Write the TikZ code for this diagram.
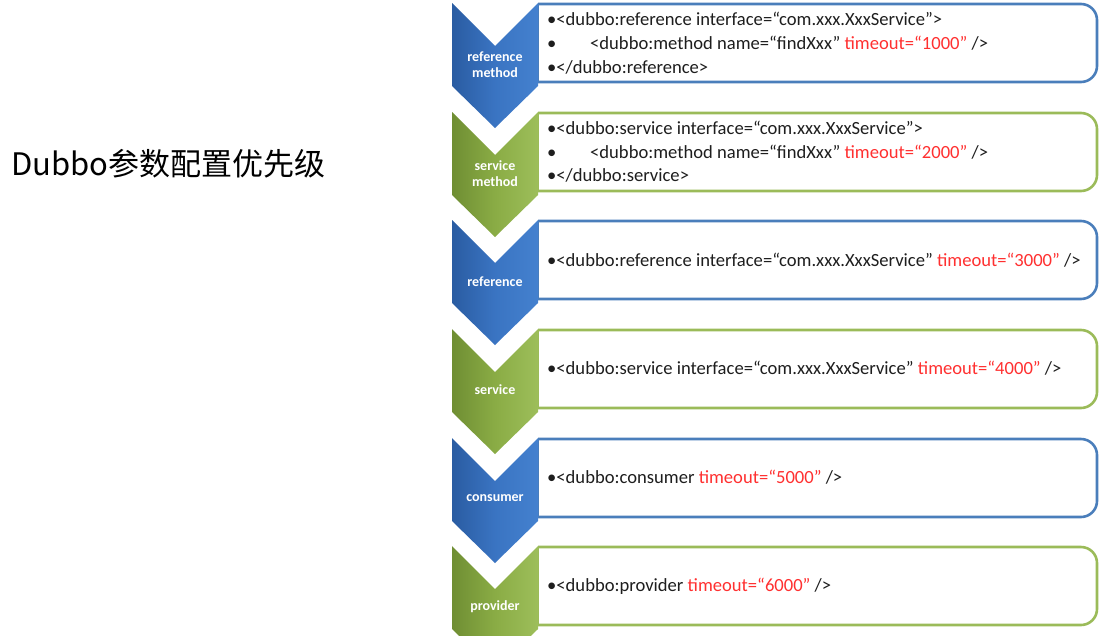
\documentclass[tikz,border=0pt]{standalone}
\usepackage{fontspec}
\setmainfont{Carlito}
\newfontfamily\cjk{Noto Sans CJK SC}
\definecolor{cbL}{HTML}{2A5CA2}
\definecolor{cbM}{HTML}{3A74C2}
\definecolor{cbR}{HTML}{4481CF}
\definecolor{cgL}{HTML}{6F8E33}
\definecolor{cgM}{HTML}{8AAC45}
\definecolor{cgR}{HTML}{9DBE5A}
\definecolor{bbox}{HTML}{4A7EBB}
\definecolor{gbox}{HTML}{9BBB59}
\definecolor{txt}{HTML}{1E1E1E}
\definecolor{redt}{HTML}{FF3030}
\newcommand\rd[1]{\textcolor{redt}{#1}}
\newcommand\chevpath[1]{(452,#1) -- (495,{#1+43}) -- (538,#1) -- (538,{#1+83}) -- (495,{#1+125}) -- (452,{#1+83}) -- cycle}
\newcommand\boxpath[1]{(538,{#1+1}) -- (1097,{#1+1}) -- (1097,{#1+79}) -- (538,{#1+79})}
\newcommand\boxleft[1]{(538,{#1+1}) -- (538,{#1+79})}
\begin{document}
\begin{tikzpicture}[x=1pt,y=-1pt,
  chevblue/.style={left color=cbL,right color=cbR,middle color=cbM},
  chevgreen/.style={left color=cgL,right color=cgR,middle color=cgM},
  bluebox/.style={draw=bbox,line width=2.6pt},
  greenbox/.style={draw=gbox,line width=2.6pt},
  lbl/.style={font=\fontsize{14}{16}\selectfont\bfseries,text=white,align=center,inner sep=0pt},
  code/.style={font=\fontsize{18.6}{22}\selectfont,text=txt,anchor=base west,inner sep=0pt},
  title/.style={font=\cjk\fontsize{31}{36}\selectfont,text=black,anchor=base west,inner sep=0pt}]
\useasboundingbox (0,0) rectangle (1105,635);
\fill[white] (0,0) rectangle (1105,635);

\node[title] (title) at (11,175) {Dubbo参数配置优先级};

% boxes
\draw[bluebox,rounded corners=16pt] \boxpath{3};
\draw[bluebox] \boxleft{3};
\draw[greenbox,rounded corners=16pt] \boxpath{112};
\draw[greenbox] \boxleft{112};
\draw[bluebox,rounded corners=16pt] \boxpath{220};
\draw[bluebox] \boxleft{220};
\draw[greenbox,rounded corners=16pt] \boxpath{329};
\draw[greenbox] \boxleft{329};
\draw[bluebox,rounded corners=16pt] \boxpath{438};
\draw[bluebox] \boxleft{438};
\draw[greenbox,rounded corners=16pt] \boxpath{546};
\draw[greenbox] \boxleft{546};

% chevrons
\shade[chevblue] \chevpath{3};
\shade[chevgreen] \chevpath{112};
\shade[chevblue] \chevpath{220};
\shade[chevgreen] \chevpath{329};
\shade[chevblue] \chevpath{438};
\shade[chevgreen] \chevpath{546};

% chevron labels
\node[lbl] (l1) at (495,65) {reference\\method};
\node[lbl] (l2) at (495,174) {service\\method};
\node[lbl] (l3) at (495,282) {reference};
\node[lbl] (l4) at (495,390) {service};
\node[lbl] (l5) at (495,498) {consumer};
\node[lbl] (l6) at (495,607) {provider};

% box texts
\node[code] (t1a) at (547,25) {•<dubbo:reference interface=“com.xxx.XxxService”>};
\node[code] (t1b) at (547,49) {\makebox[43pt][l]{•}<dubbo:method name=“findXxx” \rd{timeout=“1000”} />};
\node[code] (t1c) at (547,73) {•</dubbo:reference>};
\node[code] (t2a) at (547,134) {•<dubbo:service interface=“com.xxx.XxxService”>};
\node[code] (t2b) at (547,158) {\makebox[43pt][l]{•}<dubbo:method name=“findXxx” \rd{timeout=“2000”} />};
\node[code] (t2c) at (547,181) {•</dubbo:service>};
\node[code] (t3) at (547,266) {•<dubbo:reference interface=“com.xxx.XxxService” \rd{timeout=“3000”} />};
\node[code] (t4) at (547,374) {•<dubbo:service interface=“com.xxx.XxxService” \rd{timeout=“4000”} />};
\node[code] (t5) at (547,483) {•<dubbo:consumer \rd{timeout=“5000”} />};
\node[code] (t6) at (547,591) {•<dubbo:provider \rd{timeout=“6000”} />};
\end{tikzpicture}
\end{document}
